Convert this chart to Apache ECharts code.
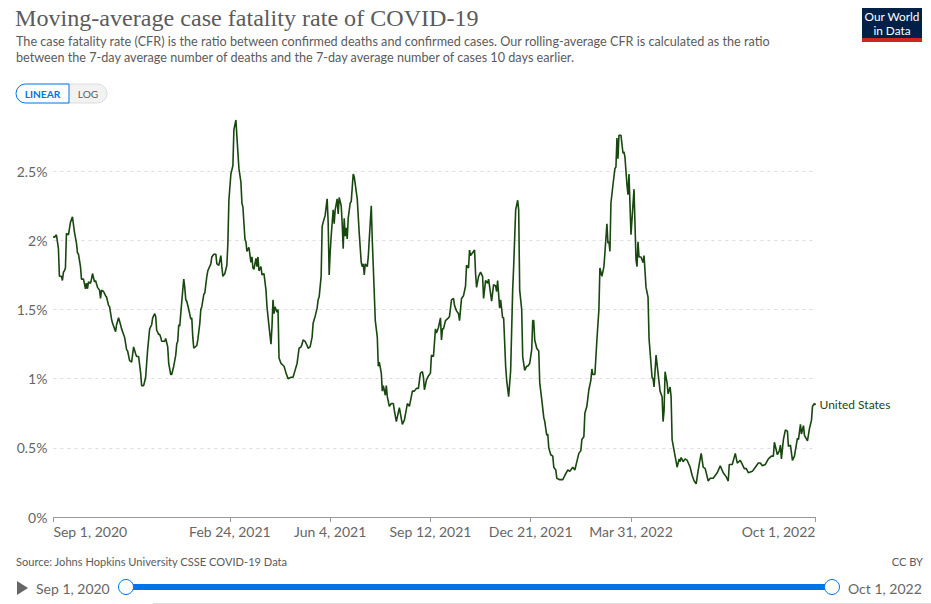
<!DOCTYPE html>
<html>
<head>
<meta charset="utf-8">
<title>Moving-average case fatality rate of COVID-19</title>
<script src="https://cdn.jsdelivr.net/npm/echarts@6/dist/echarts.min.js"></script>
<style>
  html, body { margin: 0; padding: 0; background: #fff; }
  #main { width: 931px; height: 604px; }
</style>
</head>
<body>
<div id="main"></div>
<script>
var days = [
  0,1,3,4,5,6,8,9,10,11,12,13,15,17,18,19,21,23,24,25,
  27,28,30,32,33,34,35,37,38,39,41,42,44,46,47,48,50,52,53,55,
  56,58,59,62,63,65,67,68,70,71,73,74,76,78,80,82,83,85,87,88,
  90,92,94,96,98,99,101,102,103,105,106,107,108,111,112,114,115,117,118,120,
  122,123,124,125,126,127,129,130,131,132,133,135,137,138,139,140,143,144,146,147,
  148,150,151,153,154,157,158,160,162,163,165,167,168,169,171,173,174,175,177,179,
  180,182,183,185,187,188,189,191,192,193,195,197,198,199,200,202,203,204,205,207,
  208,210,212,213,215,217,218,219,220,221,223,224,225,227,230,232,234,237,239,241,
  243,245,247,248,249,251,253,254,256,258,259,261,263,264,265,267,268,269,271,273,
  274,275,276,277,279,280,281,283,284,285,287,288,289,290,291,292,293,294,296,297,
  299,300,303,305,307,308,309,310,311,313,314,315,317,318,319,321,323,324,325,327,
  328,329,331,332,333,335,337,339,340,342,345,347,348,350,353,355,358,360,362,364,
  366,368,369,370,372,374,376,377,379,381,382,384,386,387,388,389,391,394,395,397,
  399,400,402,404,405,407,409,411,412,414,415,416,418,420,421,422,424,426,428,429,
  431,433,434,437,439,441,442,443,445,446,448,449,451,452,454,456,458,459,461,463,
  464,465,467,468,470,472,473,475,477,478,479,480,482,484,485,487,489,490,492,493,
  494,496,498,499,501,502,505,508,510,513,515,517,518,520,522,524,526,527,529,530,
  532,534,536,537,538,540,542,544,545,547,549,550,552,553,554,555,556,558,560,561,
  562,563,564,566,568,569,570,572,573,574,576,579,581,582,583,584,586,588,589,591,
  593,594,597,598,599,601,603,605,607,608,609,610,612,613,615,616,617,620,622,624,
  625,626,628,630,632,635,637,639,641,642,644,646,648,650,653,655,658,662,665,668,
  671,673,674,677,680,682,685,687,689,691,693,697,700,703,705,707,710,713,716,718,
  719,722,724,725,726,728,730,732,733,735,737,739,742,743,745,746,748,749,752,754,
  756,757,759,760
];
// rolling-average CFR in percent, one value per entry of days
var cfrPercent = [
  2.03,2.02,2.04,1.99,1.94,1.74,1.74,1.71,1.77,1.78,1.80,2.05,2.04,2.13,2.15,2.17,2.06,1.98,1.91,1.90,
  1.81,1.72,1.72,1.65,1.69,1.65,1.70,1.69,1.72,1.76,1.70,1.71,1.66,1.64,1.58,1.64,1.63,1.60,1.59,1.53,
  1.52,1.43,1.40,1.34,1.39,1.44,1.39,1.36,1.32,1.30,1.21,1.20,1.13,1.12,1.23,1.18,1.16,1.16,1.04,0.95,
  0.95,1.01,1.21,1.36,1.39,1.44,1.47,1.45,1.35,1.32,1.32,1.30,1.27,1.27,1.29,1.23,1.11,1.03,1.03,1.09,
  1.17,1.25,1.27,1.39,1.38,1.47,1.64,1.72,1.66,1.57,1.56,1.50,1.43,1.44,1.30,1.22,1.24,1.28,1.40,1.50,
  1.52,1.61,1.62,1.74,1.78,1.83,1.88,1.90,1.90,1.83,1.82,1.89,1.81,1.74,1.76,1.82,1.98,2.29,2.48,2.54,
  2.80,2.87,2.75,2.52,2.42,2.27,2.24,2.01,1.99,1.92,1.95,1.84,1.88,1.80,1.79,1.87,1.81,1.88,1.78,1.81,
  1.75,1.76,1.64,1.52,1.38,1.25,1.38,1.57,1.47,1.52,1.48,1.50,1.15,1.11,1.09,1.04,1.00,1.01,1.01,1.06,
  1.11,1.22,1.23,1.25,1.28,1.27,1.24,1.22,1.23,1.30,1.40,1.45,1.51,1.57,1.59,1.74,2.10,2.13,2.18,2.30,
  2.13,1.75,1.91,2.03,2.22,2.12,2.22,2.30,2.19,2.31,2.25,2.12,1.94,2.16,2.03,2.09,2.01,2.16,2.27,2.28,
  2.48,2.46,2.30,2.05,1.84,1.81,1.83,1.75,1.83,1.81,1.88,2.01,2.25,2.00,1.81,1.42,1.30,1.09,1.12,1.04,
  0.91,0.95,0.88,0.95,0.87,0.80,0.82,0.82,0.77,0.69,0.79,0.71,0.67,0.70,0.82,0.80,0.91,0.91,0.93,0.93,
  1.04,1.05,1.01,0.92,0.99,1.02,1.04,1.17,1.16,1.36,1.33,1.37,1.44,1.28,1.36,1.36,1.42,1.44,1.45,1.57,
  1.58,1.53,1.49,1.47,1.42,1.58,1.60,1.67,1.82,1.80,1.93,1.89,1.91,1.93,1.76,1.66,1.74,1.77,1.74,1.58,
  1.71,1.69,1.72,1.56,1.68,1.67,1.63,1.71,1.51,1.57,1.44,1.44,1.09,0.99,0.87,1.06,1.64,1.81,2.22,2.29,
  2.22,1.64,1.50,1.16,1.06,1.09,1.09,1.11,1.21,1.42,1.42,1.28,1.22,1.20,0.97,0.85,0.72,0.69,0.59,0.60,
  0.50,0.45,0.44,0.36,0.34,0.28,0.27,0.27,0.30,0.34,0.33,0.35,0.36,0.34,0.40,0.46,0.48,0.56,0.58,0.75,
  0.80,0.92,0.99,1.07,1.03,1.03,1.28,1.50,1.80,1.74,1.81,1.91,2.12,1.98,1.99,1.92,2.27,2.40,2.52,2.53,
  2.74,2.59,2.76,2.76,2.63,2.64,2.60,2.40,2.33,2.48,2.04,2.37,1.86,1.81,1.99,1.88,1.88,1.84,1.89,1.66,
  1.59,1.29,1.01,1.00,0.94,1.17,1.04,0.91,0.87,0.69,0.77,1.05,0.97,0.89,0.94,0.87,0.56,0.44,0.36,0.42,
  0.40,0.43,0.40,0.42,0.41,0.36,0.30,0.26,0.24,0.29,0.38,0.46,0.36,0.35,0.26,0.28,0.28,0.32,0.37,0.32,
  0.29,0.26,0.38,0.38,0.46,0.39,0.41,0.38,0.35,0.35,0.32,0.33,0.36,0.39,0.39,0.37,0.38,0.42,0.44,0.44,
  0.54,0.45,0.48,0.52,0.42,0.56,0.63,0.62,0.51,0.52,0.41,0.44,0.57,0.56,0.67,0.60,0.66,0.59,0.55,0.64,
  0.70,0.80,0.82,0.81
];
var tickDays = [0, 176, 276, 376, 476, 576, 760];
var tickLabels = ['Sep 1, 2020', 'Feb 24, 2021', 'Jun 4, 2021', 'Sep 12, 2021', 'Dec 21, 2021', 'Mar 31, 2022', 'Oct 1, 2022'];
var seriesName = 'United States';

var LATO = 'Lato, sans-serif';
var GREY = '#5b5b5b';
var BLUE = '#0073e6';
var LINE = '#18470f';

// small helper, everything around the plot is plain graphic text
function label(text, x, y, size, color, align, weight) {
  return {
    type: 'text', silent: true,
    style: {
      text: text, x: x, y: y, fill: color, align: align || 'left', verticalAlign: 'middle',
      fontFamily: LATO, fontSize: size, fontWeight: weight || 'normal'
    }
  };
}

var chart = echarts.init(document.getElementById('main'), null, { renderer: 'svg' });

chart.setOption({
  animation: false,
  title: {
    text: 'Moving-average case fatality rate of COVID-19',
    left: 15, top: 6, padding: 0,
    textStyle: { fontFamily: '"Liberation Serif", serif', fontSize: 24.1, fontWeight: 'normal', color: GREY }
  },
  grid: { left: 53.4, right: 115.5, top: 120, bottom: 87 },
  xAxis: {
    type: 'value', min: 0, max: 760,
    axisLine: { lineStyle: { color: '#999', width: 1 } },
    axisTick: { customValues: tickDays, length: 5, lineStyle: { color: '#999' } },
    axisLabel: {
      customValues: tickDays,
      formatter: function (v) { return tickLabels[tickDays.indexOf(v)]; },
      alignMinLabel: 'left', alignMaxLabel: 'right',
      fontFamily: LATO, fontSize: 14, color: '#666', margin: 7
    },
    splitLine: { show: false }
  },
  yAxis: {
    type: 'value', min: 0, max: 2.87, interval: 0.5,
    axisLine: { show: false },
    axisTick: { show: false },
    axisLabel: {
      showMaxLabel: false,
      formatter: function (v) { return v + '%'; },
      fontFamily: LATO, fontSize: 14, color: '#666', margin: 6, padding: [0, 0, 2, 0]
    },
    splitLine: { showMaxLine: false, lineStyle: { color: '#ddd', type: [3, 4], width: 1 } }
  },
  series: [{
    name: seriesName,
    type: 'line',
    showSymbol: false,
    silent: true,
    data: days.map(function (d, i) { return [d, cfrPercent[i]]; }),
    lineStyle: { color: LINE, width: 1.6 },
    endLabel: {
      show: true, formatter: seriesName, color: LINE,
      fontFamily: LATO, fontSize: 12, distance: 4
    }
  }],
  graphic: [
    label('The case fatality rate (CFR) is the ratio between confirmed deaths and confirmed cases. Our rolling-average CFR is calculated as the ratio', 16, 41, 12.65, GREY),
    label('between the 7-day average number of deaths and the 7-day average number of cases 10 days earlier.', 16, 57.5, 12.65, GREY),

    // logo
    { type: 'rect', silent: true, shape: { x: 862, y: 8, width: 60, height: 34 }, style: { fill: '#002147' } },
    { type: 'rect', silent: true, shape: { x: 862, y: 38, width: 60, height: 4 }, style: { fill: '#ce261e' } },
    label('Our World', 892, 16.5, 11.8, '#fff', 'center'),
    label('in Data', 892, 30.5, 11.8, '#fff', 'center'),

    // scale toggle
    { type: 'rect', silent: true, shape: { x: 60, y: 84, width: 47, height: 19, r: [0, 10, 10, 0] }, style: { fill: '#f2f2f2', stroke: '#ddd' } },
    { type: 'rect', silent: true, shape: { x: 16, y: 84, width: 53, height: 19, r: [10, 0, 0, 10] }, style: { fill: '#fff', stroke: BLUE } },
    label('LINEAR', 42.5, 93.5, 10.2, BLUE, 'center', 'bold'),
    label('LOG', 88, 93.5, 10.2, GREY, 'center'),

    // footer
    label('Source: Johns Hopkins University CSSE COVID-19 Data', 16, 561, 11.1, GREY),
    label('CC BY', 923, 561, 11.1, GREY, 'right'),

    // timeline
    { type: 'polygon', silent: true, shape: { points: [[17, 581], [28, 588], [17, 595]] }, style: { fill: '#666' } },
    label('Sep 1, 2020', 36, 588.5, 14, '#666'),
    { type: 'rect', silent: true, shape: { x: 126, y: 584, width: 706, height: 6 }, style: { fill: BLUE } },
    { type: 'circle', silent: true, shape: { cx: 126, cy: 587, r: 7.5 }, style: { fill: '#fff', stroke: BLUE, lineWidth: 1 } },
    { type: 'circle', silent: true, shape: { cx: 832, cy: 587, r: 7.5 }, style: { fill: '#fff', stroke: BLUE, lineWidth: 1 } },
    label('Oct 1, 2022', 848, 588.5, 14, '#666'),
    { type: 'rect', silent: true, shape: { x: 153, y: 603, width: 778, height: 1 }, style: { fill: '#ddd' } }
  ]
});
</script>
</body>
</html>
